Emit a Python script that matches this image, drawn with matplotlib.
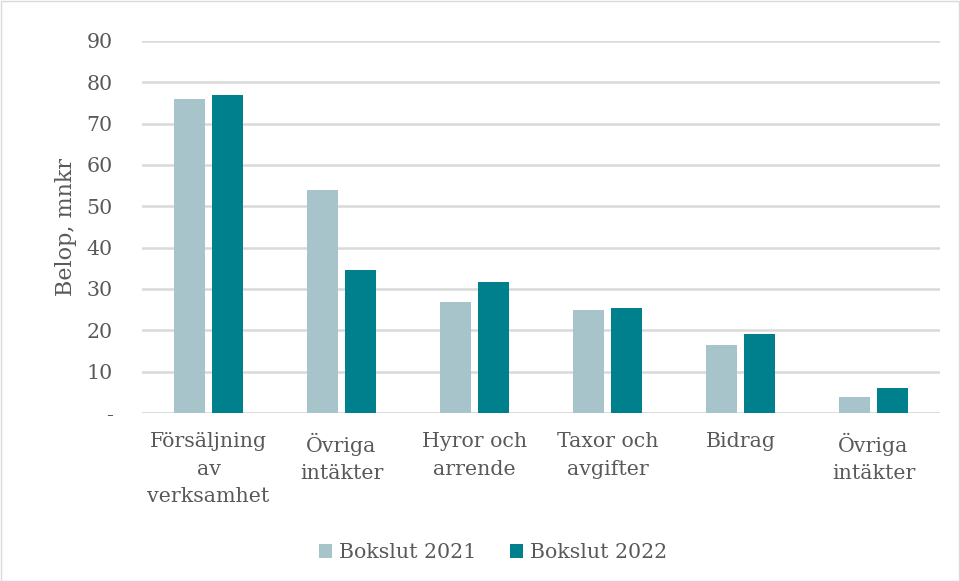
import numpy as np
import matplotlib
matplotlib.use('Agg')
import matplotlib.pyplot as plt
from matplotlib.patches import Rectangle

# Data
categories = ['Försäljning\nav\nverksamhet', 'Övriga\nintäkter', 'Hyror och\narrende',
              'Taxor och\navgifter', 'Bidrag', 'Övriga\nintäkter']
bokslut_2021 = [76.0, 54.0, 26.9, 24.9, 16.5, 3.9]
bokslut_2022 = [76.9, 34.6, 31.7, 25.4, 19.1, 6.0]
yticks = [0, 10, 20, 30, 40, 50, 60, 70, 80, 90]
ytick_labels = ['-', '10', '20', '30', '40', '50', '60', '70', '80', '90']

light = '#A7C4CA'
dark = '#00808C'
text_col = '#595959'

plt.rcParams['font.family'] = ['DejaVu Serif']

fig = plt.figure(figsize=(9.6, 5.81), dpi=100)
ax = fig.add_axes([142 / 960, 1 - 413 / 581, 798 / 960, 372 / 581])

x = np.arange(len(categories))
w = 0.226
ax.bar(x - 0.143, bokslut_2021, width=w, color=light, label='Bokslut 2021', zorder=3)
ax.bar(x + 0.143, bokslut_2022, width=w, color=dark, label='Bokslut 2022', zorder=3)

ax.set_xlim(-0.5, len(categories) - 0.5)
ax.set_ylim(0, 90)
ax.set_yticks(yticks)
ax.set_yticklabels(ytick_labels)
ax.grid(axis='y', color='#d9d9d9', linewidth=1.8, zorder=0)
for s in ax.spines.values():
    s.set_visible(False)
ax.axhline(0, color='#d9d9d9', linewidth=1.8, zorder=1)
ax.tick_params(axis='both', length=0, colors=text_col, labelsize=14.8)
ax.tick_params(axis='y', pad=21)
ax.tick_params(axis='x', pad=14)
ax.set_xticks(x)
ax.set_xticklabels(categories, linespacing=1.55)
ax.set_ylabel('Belop, mnkr', color=text_col, fontsize=16, labelpad=7)

fig.legend(loc='center', bbox_to_anchor=(493 / 960, 1 - 553 / 581), ncol=2, frameon=False,
           fontsize=14.8, labelcolor=text_col, handlelength=0.65, handleheight=0.65,
           handletextpad=0.35, columnspacing=1.6)

fig.patches.append(Rectangle((0.5 / 960, 0.5 / 581), 1 - 1.5 / 960, 1 - 1.5 / 581,
                             transform=fig.transFigure, fill=False, edgecolor='#d9d9d9', lw=1))

fig.savefig('out.png', dpi=100)
